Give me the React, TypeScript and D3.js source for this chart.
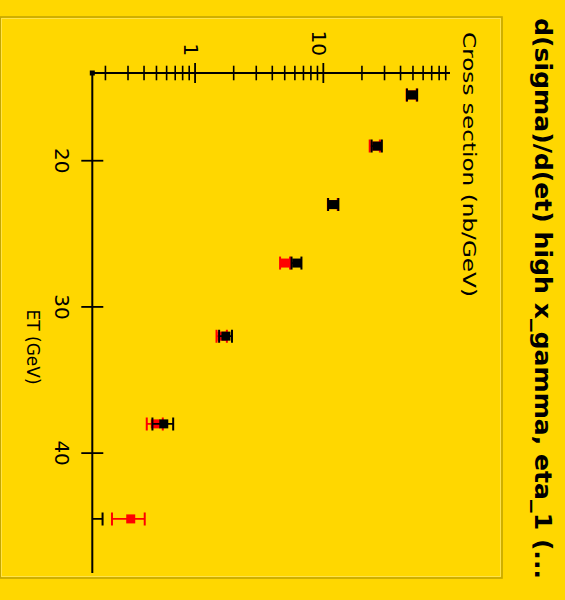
import React from "react";
import * as d3 from "d3";

// ET bin centres (GeV)
const etValues = [15.5, 19, 23, 27, 32, 38, 44.5];
// black series: cross section (nb/GeV) and errors
const blackValues = [49.4, 26.2, 12.0, 6.2, 1.74, 0.57, 0.13];
const blackErrors = [4.5, 2.4, 1.1, 0.55, 0.2, 0.105, 0.06];
// red series
const redValues = [49.0, 25.3, 11.9, 5.05, 1.62, 0.49, 0.315];
const redErrors = [4.4, 2.3, 1.05, 0.45, 0.15, 0.07, 0.09];

const xTickValues = [20, 30, 40];
const yMajorTicks = [1, 10];
const yMinorTicks = [0.2, 0.3, 0.4, 0.5, 0.6, 0.7, 0.8, 0.9, 2, 3, 4, 5, 6, 7, 8, 9, 20, 30, 40, 50, 60, 70, 80, 90];

const titleText = "d(sigma)/d(et) high x_gamma, eta_1 (...";
const xLabel = "ET (GeV)";
const yLabel = "Cross section (nb/GeV)";

const W = 600; // unrotated width
const H = 565; // unrotated height

export default function App() {
  const x = d3.scaleLinear().domain([14.0, 48.2]).range([73, 573]);
  const y = d3.scaleLog().domain([0.158, 97.2]).range([472.7, 115]);
  const axisY = y.range()[0];
  const axisX = x.range()[0];
  const ms = 9; // marker size
  const cap = 6.5;

  const series = [
    { vals: redValues, errs: redErrors, color: "#FF0000" },
    { vals: blackValues, errs: blackErrors, color: "#000000" },
  ];

  return (
    <svg
      width={565}
      height={600}
      style={{ position: "absolute", left: 0, top: 0 }}
      fontFamily="'DejaVu Sans', sans-serif"
    >
      <rect x={0} y={0} width={565} height={600} fill="#FFD700" />
      <g transform={`translate(${H},0) rotate(90)`}>
        <defs>
          <clipPath id="plotclip">
            <rect x={x.range()[0]} y={y.range()[1] - 10} width={x.range()[1] - x.range()[0]} height={axisY - y.range()[1] + 10} />
          </clipPath>
        </defs>
        {/* frame */}
        <rect x={17} y={63} width={561} height={H - 63 - 0.5} fill="none" stroke="#C4A600" strokeWidth={1.6} />
        <rect x={18.5} y={64.5} width={558} height={H - 66} fill="none" stroke="#FFE34A" strokeWidth={1} />

        {/* title */}
        <text x={18} y={30} fontSize={23} fontWeight="bold" textLength={561} lengthAdjust="spacingAndGlyphs" fill="#000">
          {titleText}
        </text>

        {/* y label */}
        <text x={32} y={102} fontSize={17} textLength={265} lengthAdjust="spacingAndGlyphs" fill="#000">
          {yLabel}
        </text>
        {/* x label */}
        <text x={347} y={538} fontSize={17} textAnchor="middle" fill="#000">
          {xLabel}
        </text>

        {/* data */}
        <g clipPath="url(#plotclip)">
          {series.map((s, si) => (
            <g key={si} stroke={s.color} fill={s.color}>
              {etValues.map((et, i) => {
                const cx = x(et);
                const lo = y(Math.max(s.vals[i] - s.errs[i], 0.01));
                const hi = y(s.vals[i] + s.errs[i]);
                const cy = y(s.vals[i]);
                return (
                  <g key={i}>
                    <line x1={cx} x2={cx} y1={lo} y2={hi} strokeWidth={1.8} />
                    <line x1={cx - cap} x2={cx + cap} y1={lo} y2={lo} strokeWidth={2} />
                    <line x1={cx - cap} x2={cx + cap} y1={hi} y2={hi} strokeWidth={2} />
                    <rect x={cx - ms / 2} y={cy - ms / 2} width={ms} height={ms} stroke="none" />
                  </g>
                );
              })}
            </g>
          ))}
        </g>

        {/* axes */}
        <line x1={axisX} x2={axisX} y1={axisY} y2={y.range()[1]} stroke="#000" strokeWidth={2} />
        <line x1={axisX} x2={x.range()[1]} y1={axisY} y2={axisY} stroke="#000" strokeWidth={2} />
        <rect x={axisX - 2.5} y={axisY - 2.5} width={5} height={5} fill="#000" />

        {yMinorTicks.map((t) => (
          <line key={"m" + t} x1={axisX - 7.3} x2={axisX + 7.3} y1={y(t)} y2={y(t)} stroke="#000" strokeWidth={1.6} />
        ))}
        {yMajorTicks.map((t) => (
          <g key={"M" + t}>
            <line x1={axisX - 10} x2={axisX + 10} y1={y(t)} y2={y(t)} stroke="#000" strokeWidth={1.8} />
            <text x={56} y={y(t) + 11.5} fontSize={20} textAnchor="end" fill="#000">
              {String(t)}
            </text>
          </g>
        ))}
        {xTickValues.map((t) => (
          <g key={"x" + t}>
            <line x1={x(t)} x2={x(t)} y1={axisY - 11} y2={axisY + 11} stroke="#000" strokeWidth={1.8} />
            <text x={x(t)} y={510} fontSize={20} textAnchor="middle" fill="#000">
              {String(t)}
            </text>
          </g>
        ))}
      </g>
    </svg>
  );
}
